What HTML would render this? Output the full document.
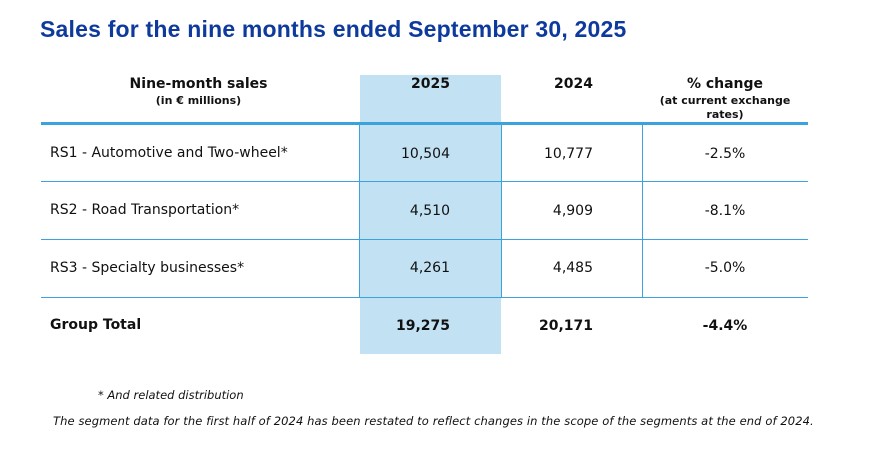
<!DOCTYPE html>
<html><head><meta charset="utf-8"><style>
body{margin:0;width:880px;height:456px;background:#fff;position:relative;overflow:hidden;font-family:"DejaVu Sans",sans-serif;color:#111}
.a{position:absolute;white-space:nowrap}
.t{font-family:"Liberation Sans",sans-serif;font-weight:bold;font-size:23px;color:#0d3a9c;left:40px;top:16px;letter-spacing:0.2px}
.h{font-weight:bold;font-size:14px}
.s{font-weight:bold;font-size:11px}
.c{font-size:14px}
.r{text-align:right}
.ln{position:absolute;background:#3aa3de}
</style></head><body>
<div class="a t">Sales for the nine months ended September 30, 2025</div>
<div class="a" style="left:360px;top:75px;width:141px;height:279px;background:#c2e2f3"></div>
<div class="ln" style="left:41px;top:122px;width:767px;height:3px"></div>
<div class="ln" style="left:41px;top:181px;width:767px;height:1px"></div>
<div class="ln" style="left:41px;top:239px;width:767px;height:1px"></div>
<div class="ln" style="left:41px;top:297px;width:767px;height:1px"></div>
<div class="ln" style="left:359px;top:124px;width:1px;height:174px"></div>
<div class="ln" style="left:501px;top:124px;width:1px;height:174px"></div>
<div class="ln" style="left:642px;top:124px;width:1px;height:174px"></div>
<div class="a h" style="left:40px;width:317px;text-align:center;top:76px">Nine-month sales</div>
<div class="a s" style="left:40px;width:317px;text-align:center;top:94px">(in € millions)</div>
<div class="a h r" style="left:360px;width:90px;top:76px">2025</div>
<div class="a h r" style="left:501px;width:92px;top:76px">2024</div>
<div class="a h" style="left:642px;width:166px;text-align:center;top:76px">% change</div>
<div class="a s" style="left:642px;width:166px;text-align:center;top:94px;line-height:14px">(at current exchange<br>rates)</div>

<div class="a c" style="left:50px;top:145px">RS1 - Automotive and Two-wheel*</div>
<div class="a c r" style="left:360px;width:90px;top:146px">10,504</div>
<div class="a c r" style="left:501px;width:92px;top:146px">10,777</div>
<div class="a c" style="left:642px;width:166px;text-align:center;top:146px">-2.5%</div>

<div class="a c" style="left:50px;top:202px">RS2 - Road Transportation*</div>
<div class="a c r" style="left:360px;width:90px;top:203px">4,510</div>
<div class="a c r" style="left:501px;width:92px;top:203px">4,909</div>
<div class="a c" style="left:642px;width:166px;text-align:center;top:203px">-8.1%</div>

<div class="a c" style="left:50px;top:260px">RS3 - Specialty businesses*</div>
<div class="a c r" style="left:360px;width:90px;top:260px">4,261</div>
<div class="a c r" style="left:501px;width:92px;top:260px">4,485</div>
<div class="a c" style="left:642px;width:166px;text-align:center;top:260px">-5.0%</div>

<div class="a h" style="left:50px;top:317px">Group Total</div>
<div class="a h r" style="left:360px;width:90px;top:318px">19,275</div>
<div class="a h r" style="left:501px;width:92px;top:318px">20,171</div>
<div class="a h" style="left:642px;width:166px;text-align:center;top:318px">-4.4%</div>

<div class="a" style="left:98px;top:388px;font-size:11.5px;font-style:italic">* And related distribution</div>
<div class="a" style="left:53px;top:414px;font-size:11.5px;font-style:italic;letter-spacing:0.1px">The segment data for the first half of 2024 has been restated to reflect changes in the scope of the segments at the end of 2024.</div>
</body></html>
